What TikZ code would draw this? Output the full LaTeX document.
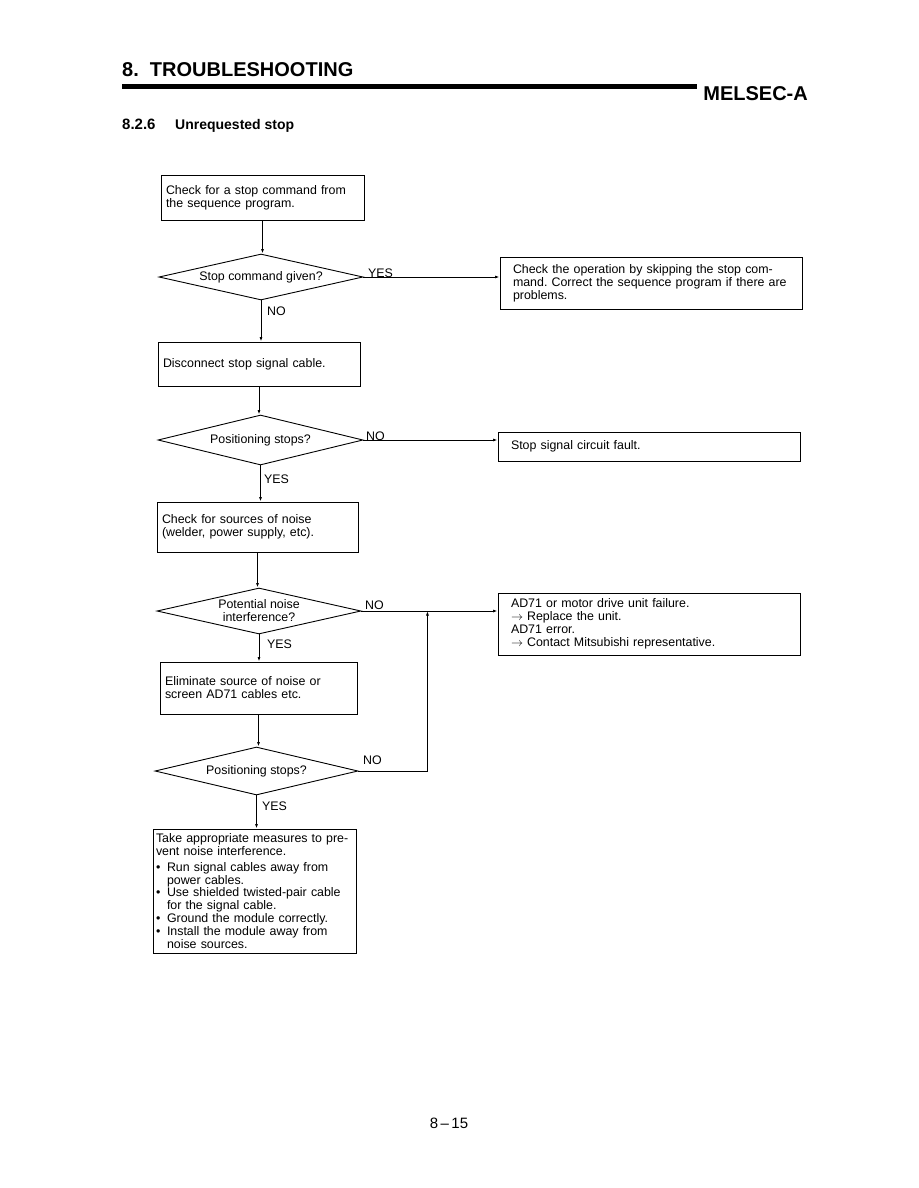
\documentclass[tikz,border=0pt]{standalone}
\usepackage{fontspec}
\setmainfont{Liberation Sans}
\usetikzlibrary{arrows.meta,shapes.geometric}

\newcommand{\fctext}{\fontsize{12.4}{13}\selectfont\frenchspacing}
\newcommand{\bul}{\makebox[11pt][l]{\textbullet}}
\newcommand{\ind}{\hspace*{11pt}}

\tikzset{
  box/.style={draw, line width=0.9pt, align=left, inner xsep=5pt, inner ysep=2pt, font=\fctext},
  cond/.style={draw, diamond, line width=0.9pt, inner sep=0pt, align=center, font=\fctext},
  flow/.style={line width=0.9pt, -{Latex[length=4.5pt,width=3pt]}},
  lbl/.style={anchor=base west, inner sep=0pt, font=\fctext},
}

\begin{document}
\begin{tikzpicture}[x=1pt, y=-1pt]
  \useasboundingbox (0,0) rectangle (918,1188);
  \fill[white] (0,0) rectangle (918,1188);

  % header
  \node[anchor=base west, inner sep=0pt, font=\fontsize{20}{20}\selectfont\bfseries] (title) at (122,77) {8.\ \ TROUBLESHOOTING};
  \fill (122,84) rectangle (697,89);
  \node[anchor=base east, inner sep=0pt, font=\fontsize{20}{20}\selectfont\bfseries] (brand) at (808,101) {MELSEC-A};
  \node[anchor=base west, inner sep=0pt, font=\fontsize{15}{15}\selectfont\bfseries] (secno) at (122,129) {8.2.6};
  \node[anchor=base west, inner sep=0pt, font=\fontsize{14}{14}\selectfont\bfseries] (sectitle) at (175,129) {Unrequested stop};

  % left column
  \node[box, text width=193pt, minimum width=203pt, minimum height=45pt] (chk) at (262.5,197.5)
    {Check for a stop command from\\the sequence program.};
  \node[cond, aspect=4.43, minimum width=204pt, minimum height=46pt] (cmd) at (261,277) {Stop command given?};
  \node[box, text width=192pt, minimum width=202pt, minimum height=44pt] (disc) at (259,364)
    {Disconnect stop signal cable.};
  \node[cond, aspect=4.1, minimum width=205pt, minimum height=50pt] (stop1) at (260.5,440) {Positioning stops?};
  \node[box, text width=191pt, minimum width=201pt, minimum height=50pt] (noise) at (257.5,527)
    {Check for sources of noise\\(welder, power supply, etc).};
  \node[cond, aspect=4.43, inner sep=-3pt, minimum width=204pt, minimum height=46pt] (pot) at (259,611)
    {Potential noise\\interference?};
  \node[box, text width=187pt, minimum width=197pt, minimum height=52pt] (elim) at (258.5,688)
    {Eliminate source of noise or\\screen AD71 cables etc.};
  \node[cond, aspect=4.23, minimum width=203pt, minimum height=48pt] (stop2) at (256.5,771) {Positioning stops?};
  \node[box, inner xsep=3pt, text width=197pt, minimum width=203pt, minimum height=124pt,
        font=\fontsize{12.4}{12.9}\selectfont\frenchspacing] (meas) at (254.5,891)
    {Take appropriate measures to pre-\\vent noise interference.\\[3pt]
     \bul Run signal cables away from\\\ind power cables.\\
     \bul Use shielded twisted-pair cable\\\ind for the signal cable.\\
     \bul Ground the module correctly.\\
     \bul Install the module away from\\\ind noise sources.};

  % right column
  \node[box, inner xsep=13pt, text width=276pt, minimum width=302pt, minimum height=52pt] (skip) at (651,283)
    {Check the operation by skipping the stop com-\\mand. Correct the sequence program if there are\\problems.};
  \node[box, inner xsep=13pt, text width=276pt, minimum width=302pt, minimum height=29pt] (circ) at (649,446.5)
    {Stop signal circuit fault.};
  \node[box, inner xsep=13pt, text width=276pt, minimum width=302pt, minimum height=62pt] (fail) at (649,624)
    {AD71 or motor drive unit failure.\\$\rightarrow$ Replace the unit.\\AD71 error.\\$\rightarrow$ Contact Mitsubishi representative.};

  % connectors
  \draw[flow] (chk.south) -- (chk.south |- cmd.north);
  \draw[flow] (cmd.east) -- (cmd.east -| skip.west);
  \draw[flow] (cmd.south) -- (cmd.south |- disc.north);
  \draw[flow] (disc.south) -- (disc.south |- stop1.north);
  \draw[flow] (stop1.east) -- (stop1.east -| circ.west);
  \draw[flow] (stop1.south) -- (stop1.south |- noise.north);
  \draw[flow] (noise.south) -- (noise.south |- pot.north);
  \draw[flow] (pot.east) -- (pot.east -| fail.west);
  \draw[flow] (pot.south) -- (pot.south |- elim.north);
  \draw[flow] (elim.south) -- (elim.south |- stop2.north);
  \path (pot.east) ++(66,0) coordinate (join);
  \draw[flow] (stop2.east) -| (join);
  \draw[flow] (stop2.south) -- (stop2.south |- meas.north);

  % branch labels
  \node[lbl] (y1) at (368,277) {YES};
  \node[lbl] (n1) at (267,315) {NO};
  \node[lbl] (n2) at (366,440) {NO};
  \node[lbl] (y2) at (264,483) {YES};
  \node[lbl] (n3) at (365,609) {NO};
  \node[lbl] (y3) at (267,648) {YES};
  \node[lbl] (n4) at (363,764) {NO};
  \node[lbl] (y4) at (262,810) {YES};

  % page number
  \node[anchor=base, inner sep=0pt, font=\fontsize{15}{15}\selectfont] (page) at (449,1128) {8\,--\,15};
\end{tikzpicture}
\end{document}
